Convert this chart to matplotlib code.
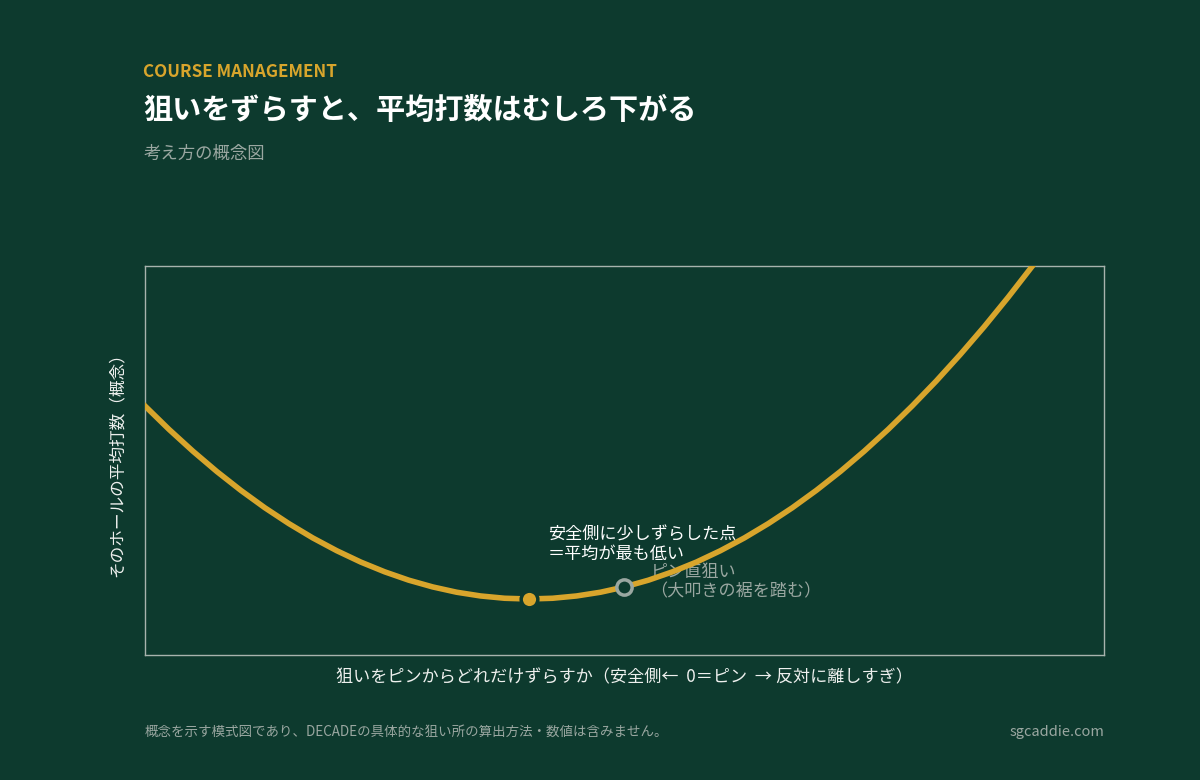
import matplotlib.pyplot as plt

plt.rcParams['font.family'] = ['Noto Sans CJK JP', 'DejaVu Sans']

# 狙いのずらし量（0 = ピン）と平均打数（概念値）
offset = [-5.0, -4.75, -4.5, -4.25, -4.0, -3.75, -3.5, -3.25, -3.0, -2.75,
          -2.5, -2.25, -2.0, -1.75, -1.5, -1.25, -1.0, -0.75, -0.5, -0.25,
          0.0, 0.25, 0.5, 0.75, 1.0, 1.25, 1.5, 1.75, 2.0, 2.25,
          2.5, 2.75, 3.0, 3.25, 3.5, 3.75, 4.0, 4.25, 4.5]
avg_score = [5.6, 5.406, 5.225, 5.056, 4.9, 4.756, 4.625, 4.506, 4.4, 4.306,
             4.225, 4.156, 4.1, 4.056, 4.025, 4.006, 4.0, 4.006, 4.025, 4.056,
             4.1, 4.156, 4.225, 4.306, 4.4, 4.506, 4.625, 4.756, 4.9, 5.056,
             5.225, 5.406, 5.6, 5.806, 6.025, 6.256, 6.5, 6.756, 7.025]

best_x, best_y = -1.0, 4.0
pin_x, pin_y = 0.0, 4.1

bg = '#0d3a2e'
gold = '#d8a52c'
grey = '#9aa7a1'

fig = plt.figure(figsize=(12, 7.8), dpi=100)
fig.patch.set_facecolor(bg)
ax = fig.add_axes([0.1208, 0.1603, 0.7992, 0.4987])
ax.set_facecolor(bg)

ax.plot(offset, avg_score, color=gold, lw=4, solid_joinstyle='round', zorder=3)
ax.plot(best_x, best_y, 'o', ms=12, color=gold, mec=bg, mew=2.5, zorder=4)
ax.plot(pin_x, pin_y, 'o', ms=11, mfc=bg, mec=grey, mew=2.5, zorder=4)

ax.annotate('安全側に少しずらした点\n＝平均が最も低い', xy=(best_x, best_y),
            xytext=(19, 36), textcoords='offset pixels', ha='left', va='bottom',
            color='white', fontsize=12.3, linespacing=1.1, zorder=2)
ax.annotate('ピン直狙い\n（大叩きの裾を踏む）', xy=(pin_x, pin_y),
            xytext=(26, 5), textcoords='offset pixels', ha='left', va='center',
            color=grey, fontsize=12.3, linespacing=1.1, zorder=2)

ax.set_xlim(-5, 5)
ax.set_ylim(3.536, 6.76)
ax.set_xticks([])
ax.set_yticks([])
for s in ax.spines.values():
    s.set_color('#a7b3ad')
    s.set_linewidth(1)

ax.set_xlabel('狙いをピンからどれだけずらすか（安全側←  0＝ピン  → 反対に離しすぎ）',
              color='#eef0ee', fontsize=12.3, labelpad=10)
ax.set_ylabel('そのホールの平均打数（概念）', color='#eef0ee', fontsize=12, labelpad=14)

fig.text(0.1195, 0.908, 'COURSE MANAGEMENT', color=gold, fontsize=12.3,
         fontweight='bold', va='center')
fig.text(0.1195, 0.859, '狙いをずらすと、平均打数はむしろ下がる', color='white',
         fontsize=21, fontweight='bold', va='center')
fig.text(0.1195, 0.803, '考え方の概念図', color=grey, fontsize=12.5, va='center')

fig.text(0.1205, 0.062, '概念を示す模式図であり、DECADEの具体的な狙い所の算出方法・数値は含みません。',
         color=grey, fontsize=9.7, va='center')
fig.text(0.92, 0.062, 'sgcaddie.com', color=grey, fontsize=10.5, va='center', ha='right')

fig.savefig('out.png', facecolor=bg)
